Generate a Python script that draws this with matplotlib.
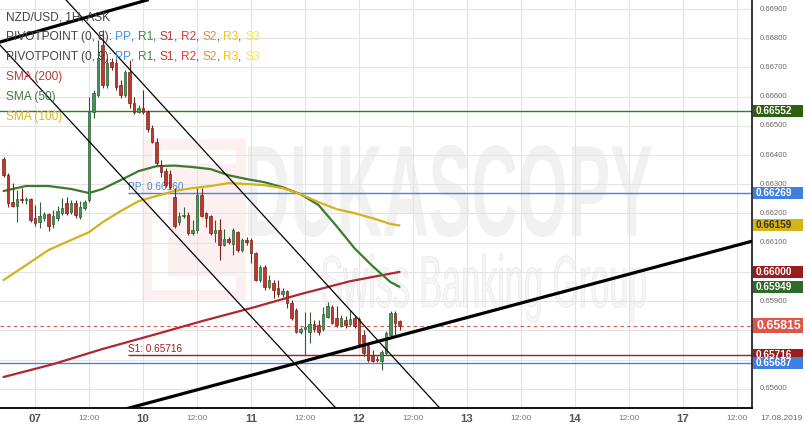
import matplotlib
matplotlib.use('Agg')
import matplotlib.pyplot as plt
from matplotlib.textpath import TextPath
from matplotlib.font_manager import FontProperties
from matplotlib.patches import PathPatch, Rectangle
from matplotlib.transforms import Affine2D

plt.rcParams['font.family'] = ['Liberation Sans', 'DejaVu Sans']

W, H = 805, 430

# ---------------- data ----------------
# candle times: hours from 07 00:00
candle_hours = list(range(-7, 82))
candle_open = [0.66386, 0.66332, 0.66239, 0.66225, 0.66249, 0.66246, 0.66249, 0.66184, 0.66171, 0.66184,
               0.66198, 0.66164, 0.66184, 0.66202, 0.66236, 0.66205, 0.66236, 0.66188, 0.66219, 0.66246,
               0.66547, 0.66606, 0.66777, 0.66640, 0.66719, 0.66715, 0.66640, 0.66606, 0.66684, 0.66578,
               0.66547, 0.66561, 0.66547, 0.66493, 0.66445, 0.66366, 0.66345, 0.66335, 0.66256, 0.66171,
               0.66191, 0.66195, 0.66133, 0.66143, 0.66263, 0.66202, 0.66191, 0.66133, 0.66143, 0.66092,
               0.66112, 0.66095, 0.66136, 0.66075, 0.66109, 0.66109, 0.66064, 0.65972, 0.66016, 0.65948,
               0.65962, 0.65945, 0.65924, 0.65934, 0.65893, 0.65869, 0.65794, 0.65804, 0.65794, 0.65821,
               0.65818, 0.65804, 0.65845, 0.65880, 0.65842, 0.65814, 0.65835, 0.65821, 0.65842, 0.65838,
               0.65784, 0.65746, 0.65715, 0.65701, 0.65695, 0.65722, 0.65784, 0.65859, 0.65832]
candle_high = [0.66393, 0.66339, 0.66304, 0.66280, 0.66287, 0.66256, 0.66253, 0.66229, 0.66239, 0.66205,
               0.66202, 0.66212, 0.66225, 0.66253, 0.66256, 0.66246, 0.66246, 0.66243, 0.66246, 0.66599,
               0.66623, 0.66794, 0.66828, 0.66732, 0.66732, 0.66732, 0.66657, 0.66691, 0.66726, 0.66599,
               0.66571, 0.66623, 0.66554, 0.66503, 0.66458, 0.66383, 0.66356, 0.66349, 0.66287, 0.66205,
               0.66222, 0.66205, 0.66177, 0.66287, 0.66287, 0.66205, 0.66195, 0.66177, 0.66181, 0.66147,
               0.66119, 0.66150, 0.66140, 0.66116, 0.66119, 0.66116, 0.66068, 0.66023, 0.66023, 0.65989,
               0.65972, 0.65972, 0.65945, 0.65938, 0.65903, 0.65876, 0.65811, 0.65862, 0.65862, 0.65835,
               0.65835, 0.65880, 0.65897, 0.65886, 0.65883, 0.65852, 0.65849, 0.65869, 0.65852, 0.65845,
               0.65801, 0.65753, 0.65732, 0.65712, 0.65732, 0.65797, 0.65865, 0.65865, 0.65835]
candle_low = [0.66325, 0.66222, 0.66222, 0.66171, 0.66236, 0.66232, 0.66171, 0.66157, 0.66150, 0.66174,
              0.66140, 0.66150, 0.66174, 0.66195, 0.66195, 0.66198, 0.66184, 0.66181, 0.66212, 0.66239,
              0.66527, 0.66599, 0.66630, 0.66630, 0.66691, 0.66623, 0.66595, 0.66599, 0.66561, 0.66541,
              0.66544, 0.66541, 0.66479, 0.66441, 0.66366, 0.66325, 0.66290, 0.66284, 0.66150, 0.66160,
              0.66184, 0.66126, 0.66126, 0.66133, 0.66188, 0.66154, 0.66126, 0.66102, 0.66041, 0.66088,
              0.66095, 0.66058, 0.66068, 0.66068, 0.66092, 0.66030, 0.65969, 0.65965, 0.65938, 0.65941,
              0.65910, 0.65914, 0.65914, 0.65876, 0.65835, 0.65790, 0.65787, 0.65715, 0.65756, 0.65794,
              0.65784, 0.65797, 0.65842, 0.65821, 0.65811, 0.65811, 0.65808, 0.65814, 0.65808, 0.65746,
              0.65712, 0.65691, 0.65691, 0.65691, 0.65664, 0.65715, 0.65781, 0.65784, 0.65801]
candle_close = [0.66332, 0.66236, 0.66225, 0.66249, 0.66246, 0.66249, 0.66177, 0.66167, 0.66191, 0.66198,
                0.66157, 0.66191, 0.66208, 0.66219, 0.66202, 0.66236, 0.66195, 0.66222, 0.66239, 0.66547,
                0.66613, 0.66732, 0.66640, 0.66715, 0.66702, 0.66633, 0.66606, 0.66684, 0.66578, 0.66547,
                0.66561, 0.66547, 0.66489, 0.66445, 0.66373, 0.66342, 0.66297, 0.66290, 0.66157, 0.66191,
                0.66195, 0.66133, 0.66143, 0.66263, 0.66191, 0.66184, 0.66133, 0.66143, 0.66092, 0.66112,
                0.66102, 0.66143, 0.66075, 0.66109, 0.66102, 0.66064, 0.65972, 0.66016, 0.65948, 0.65972,
                0.65938, 0.65924, 0.65934, 0.65893, 0.65842, 0.65794, 0.65804, 0.65811, 0.65821, 0.65804,
                0.65794, 0.65856, 0.65883, 0.65825, 0.65818, 0.65842, 0.65818, 0.65838, 0.65814, 0.65753,
                0.65722, 0.65698, 0.65695, 0.65698, 0.65725, 0.65791, 0.65859, 0.65825, 0.65815]

sma200_hours = [-7, 4, 15, 26, 37, 48, 59, 70, 81]
sma200_values = [0.65640, 0.65684, 0.65736, 0.65783, 0.65831, 0.65876, 0.65924, 0.65968, 0.66000]

sma_hours = [-7, -2, 3, 8, 12, 15, 19, 23, 27, 31, 35, 39, 43, 47, 51, 55, 59, 63, 67, 71, 75, 79, 81]
sma50_values = [0.66277, 0.66294, 0.66294, 0.66284, 0.66270, 0.66284, 0.66314, 0.66345, 0.66362, 0.66364,
                0.66359, 0.66352, 0.66331, 0.66318, 0.66307, 0.66290, 0.66266, 0.66229, 0.66157, 0.66081,
                0.66020, 0.65965, 0.65949]
sma100_values = [0.65972, 0.66023, 0.66075, 0.66109, 0.66136, 0.66170, 0.66208, 0.66242, 0.66260, 0.66277,
                 0.66287, 0.66294, 0.66304, 0.66301, 0.66297, 0.66287, 0.66266, 0.66239, 0.66215, 0.66201,
                 0.66184, 0.66164, 0.66159]

# trend lines: (hour, price) end points
trend_bottom = [(20.7, 0.65533), (159.3, 0.66105)]
trend_top = [(-7.8, 0.66787), (24.9, 0.66931)]
channel_1 = [(-7.8, 0.66777), (66.9, 0.65533)]
channel_2 = [(6.9, 0.66931), (90.0, 0.65533)]

r1_level = 0.66552
pp_level = 0.66269
s1_level = 0.65716
pp2_level = 0.65687
last_price = 0.65815
pivot_start_hour = 20.7

y_ticks = [0.669, 0.668, 0.667, 0.666, 0.665, 0.664, 0.663, 0.662, 0.661, 0.660, 0.659, 0.658, 0.657, 0.656]
y_tick_hidden = [0.660, 0.658, 0.657]   # covered by value boxes in the reference
x_tick_hours = [0, 12, 24, 36, 48, 60, 72, 84, 96, 108, 120, 132, 144, 156]
x_tick_labels = ['07', '12:00', '10', '12:00', '11', '12:00', '12', '12:00', '13', '12:00', '14', '12:00', '17', '12:00']

# ---------------- figure ----------------
fig = plt.figure(figsize=(W / 100, H / 100), dpi=100)
fig.patch.set_facecolor('white')
ax = fig.add_axes([0, 22 / H, 752 / W, 408 / H])
ax.set_xlim(-7.78, 159.33)
ax.set_ylim(0.65534, 0.66931)
ax.set_facecolor('white')
for s in ['top', 'left']:
    ax.spines[s].set_visible(False)
ax.spines['right'].set_color('black')
ax.spines['right'].set_linewidth(1.1)
ax.spines['bottom'].set_color('black')
ax.spines['bottom'].set_linewidth(1.3)
ax.set_xticks(x_tick_hours)
ax.set_yticks(y_ticks)
ax.tick_params(length=0, labelbottom=False, labelleft=False)
ax.grid(True, color='#e4e4e4', lw=0.8)
ax.set_axisbelow(True)


# watermark
def fit_text(s, box, fc, ec='none', weight='bold', z=0.2):
    fp = FontProperties(family='Liberation Sans', weight=weight)
    tp = TextPath((0, 0), s, size=100, prop=fp)
    ext = tp.get_extents()
    x0, y0, x1, y1 = box
    sx = (x1 - x0) / ext.width
    sy = (y1 - y0) / ext.height
    tr = (Affine2D().translate(-ext.x0, -ext.y0).scale(sx / W, sy / H)
          .translate(x0 / W, 1 - y1 / H))
    patch = PathPatch(tr.transform_path(tp), transform=fig.transFigure, fc=fc, ec=ec,
                      lw=0.6, zorder=z)
    ax.add_patch(patch)


def fig_rect(x0, y0, x1, y1, color, z=0.15):
    ax.add_patch(Rectangle((x0 / W, 1 - y1 / H), (x1 - x0) / W, (y1 - y0) / H,
                           transform=fig.transFigure, fc=color, ec='none', zorder=z))


fig_rect(142, 139, 246, 300, '#fdf0f0')
fig_rect(152, 150, 168, 290, '#ffffff', z=0.16)
fig_rect(168, 150, 236, 164, '#ffffff', z=0.16)
fig_rect(168, 276, 236, 290, '#ffffff', z=0.16)
fit_text('DUKASCOPY', (248, 145, 652, 237), '#f1f1f1')
fit_text('Swiss Banking Group', (322, 254, 646, 322), '#f6f6f6', ec='#ebebeb', weight='normal')

# horizontal levels
ax.axhline(r1_level, color='#3c7a1e', lw=1.0, zorder=2)
ax.axhline(pp2_level, color='#4a86d4', lw=1.0, zorder=2)
ax.hlines(pp_level, pivot_start_hour, 159.33, color='#4a86d4', lw=1.0, zorder=2)
ax.hlines(s1_level, pivot_start_hour, 159.33, color='#9e1f1f', lw=1.0, zorder=2)
ax.axhline(last_price, color='#d9534f', lw=0.8, ls=(0, (3, 3)), zorder=2)
ax.text(pivot_start_hour, pp_level + 0.00004, 'PP: 0.66160', color='#4a86d4', fontsize=7.2,
        va='bottom', ha='left', zorder=3)
ax.text(pivot_start_hour, s1_level + 0.00004, 'S1: 0.65716', color='#9e1f1f', fontsize=7.2,
        va='bottom', ha='left', zorder=3)

# SMAs
ax.plot(sma200_hours, sma200_values, color='#b0272d', lw=1.6, zorder=3, solid_capstyle='round')
ax.plot(sma_hours, sma50_values, color='#3c7a2c', lw=1.6, zorder=3, solid_capstyle='round')
ax.plot(sma_hours, sma100_values, color='#d4b21c', lw=1.6, zorder=3, solid_capstyle='round')

# candles
up_fc, up_ec = '#4a935a', '#2a5e33'
dn_fc, dn_ec = '#be3a2e', '#7a2218'
bottoms, heights, fcs, ecs = [], [], [], []
for o, c in zip(candle_open, candle_close):
    up = c >= o
    bottoms.append(min(o, c))
    heights.append(max(abs(c - o), 0.00002))
    fcs.append(up_fc if up else dn_fc)
    ecs.append(up_ec if up else dn_ec)
ax.vlines(candle_hours, candle_low, candle_high, colors=ecs, lw=0.8, zorder=4)
ax.bar(candle_hours, heights, bottom=bottoms, width=0.66, color=fcs, edgecolor=ecs,
       linewidth=0.5, zorder=5)

# trend lines
for pts, lw in [(trend_bottom, 2.3), (trend_top, 2.3), (channel_1, 0.9), (channel_2, 0.9)]:
    ax.plot([p[0] for p in pts], [p[1] for p in pts], color='black', lw=lw, zorder=6)

# right axis tick labels
ytr = ax.get_yaxis_transform()
for t in y_ticks:
    if any(abs(t - v) < 1e-9 for v in y_tick_hidden):
        continue
    ax.text(760 / 752, t, f'{t:.5f}', transform=ytr, fontsize=5.6, color='#6a6a6a',
            va='center', ha='left', clip_on=False)

boxes = [(r1_level, '#2f5f10', 'white', 7.2, 12),
         (pp_level, '#3f7fde', 'white', 7.2, 12),
         (0.66159, '#d6b516', '#333333', 7.2, 12),
         (0.66000, '#9b1c1c', 'white', 7.2, 12),
         (0.65949, '#2f6a2a', 'white', 7.2, 12),
         (s1_level, '#9b1c1c', 'white', 7.2, 12),
         (pp2_level, '#3f7fde', 'white', 7.2, 12),
         (last_price, '#e0574a', 'white', 8.8, 15)]
dpp = (0.66931 - 0.65534) / 408
for val, bg, fgc, fs, hpx in boxes:
    ax.add_patch(Rectangle((753 / 752, val - hpx * dpp / 2), 50 / 752, hpx * dpp, transform=ytr,
                           fc=bg, ec='none', clip_on=False, zorder=10))
    ax.text(756 / 752, val, f'{val:.5f}', transform=ytr, fontsize=fs, color=fgc,
            fontweight='bold', va='center', ha='left', clip_on=False, zorder=11)

# bottom axis labels
xtr = ax.get_xaxis_transform()
for h, lab in zip(x_tick_hours, x_tick_labels):
    if lab == '12:00':
        ax.text(h, -11 / 408, lab, transform=xtr, fontsize=6, color='#777777',
                ha='center', va='center', clip_on=False)
    else:
        ax.text(h, -11 / 408, lab, transform=xtr, fontsize=8.2, color='#555555',
                fontweight='bold', ha='center', va='center', clip_on=False)
fig.text(781 / W, 1 - 419 / H, '17.08.2019', fontsize=6, color='#666666', ha='center', va='center')


# legend
def chain(parts, x, y, fs=8.6):
    s, c = parts[0]
    t = fig.text(x / W, 1 - y / H, s, color=c, fontsize=fs, va='center', ha='left', zorder=20)
    for s, c in parts[1:]:
        t = ax.annotate(s, xy=(1, 0.5), xycoords=t, color=c, fontsize=fs, va='center',
                        ha='left', zorder=20, annotation_clip=False)


grey = '#444444'
piv = [('PP', '#4a8fe0'), (', ', grey), ('R1', '#3d8b3d'), (', ', grey), ('S1', '#c0392b'),
       (', ', grey), ('R2', '#e53e30'), (', ', grey), ('S2', '#f08c33'), (', ', grey),
       ('R3', '#f2c218'), (', ', grey), ('S3', '#f4e83a')]
chain([('NZD/USD, 1H, ASK', grey)], 6, 17)
chain([('PIVOTPOINT (0, 8): ', grey)] + piv, 6, 37)
chain([('PIVOTPOINT (0, 9): ', grey)] + piv, 6, 57)
chain([('SMA (200)', '#b3403f')], 6, 77)
chain([('SMA (50)', '#457a40')], 6, 97)
chain([('SMA (100)', '#d6b728')], 6, 117)

fig.savefig('out.png', dpi=100)
